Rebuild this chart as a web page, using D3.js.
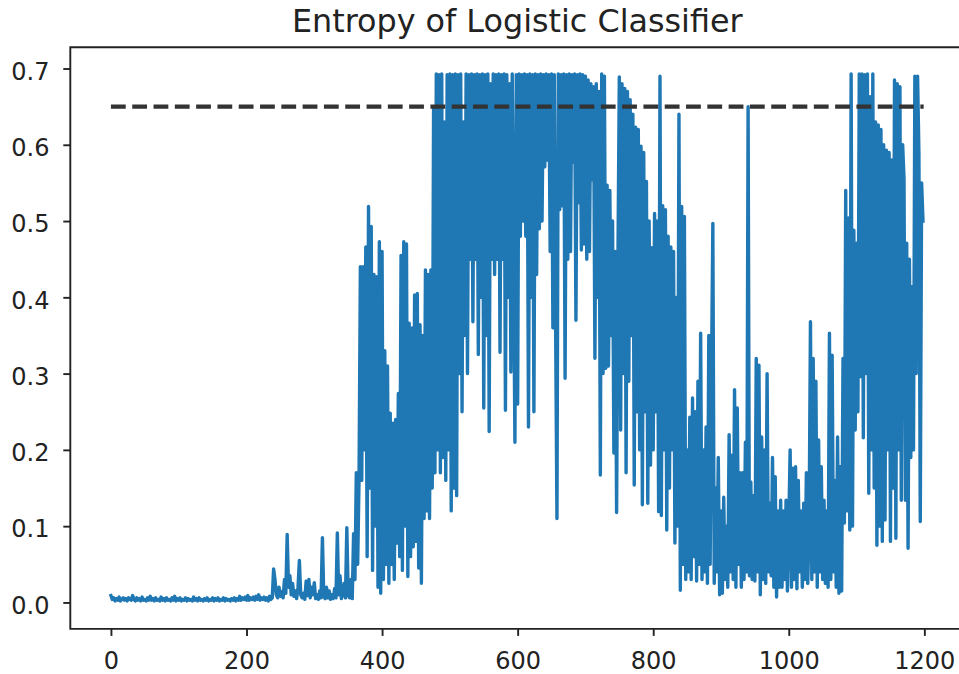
<!DOCTYPE html>
<html>
<head>
<meta charset="utf-8">
<script src="https://cdn.jsdelivr.net/npm/d3@7"></script>
<style>
  body { margin: 0; background: #fff; }
  svg { display: block; }
  text { font-family: "DejaVu Sans", sans-serif; fill: #222; }
</style>
</head>
<body>
<svg id="chart" width="959" height="674"></svg>
<script>
// Entropy of the classifier's predictions per step (sampled every 2 steps)
const title = "Entropy of Logistic Classifier";
const step = 2;
const entropy = [
  // 0-238: near-zero entropy
  0.009,0.004,0.006,0.002,0.005,0.003,0.007,0.002,0.004,0.006,0.003,0.005,0.002,0.006,0.004,
  0.003,0.009,0.004,0.002,0.006,0.003,0.005,0.002,0.007,0.003,0.004,0.002,0.006,0.003,0.008,
  0.003,0.005,0.002,0.006,0.003,0.004,0.002,0.007,0.003,0.005,0.002,0.006,0.003,0.004,0.002,
  0.006,0.003,0.008,0.002,0.005,0.003,0.006,0.002,0.004,0.003,0.006,0.002,0.005,0.003,0.004,
  0.002,0.007,0.003,0.005,0.002,0.006,0.003,0.004,0.002,0.005,0.003,0.006,0.002,0.004,0.003,
  0.006,0.002,0.005,0.003,0.006,0.002,0.004,0.003,0.006,0.002,0.005,0.003,0.004,0.002,0.005,
  0.003,0.006,0.002,0.005,0.003,0.008,0.003,0.006,0.004,0.007,0.003,0.009,0.003,0.006,0.004,
  0.007,0.003,0.008,0.004,0.010,0.003,0.006,0.004,0.007,0.003,0.006,0.002,0.008,0.004,0.006,
  // 240-358: first small spikes
  0.044,0.030,0.010,0.006,0.020,0.008,0.014,0.006,0.030,0.012,0.089,0.020,0.035,0.010,0.025,
  0.008,0.015,0.005,0.020,0.055,0.010,0.006,0.012,0.004,0.028,0.009,0.030,0.006,0.020,0.010,
  0.026,0.005,0.010,0.004,0.015,0.006,0.085,0.008,0.005,0.020,0.006,0.015,0.004,0.010,0.005,
  0.018,0.006,0.091,0.010,0.035,0.005,0.012,0.025,0.006,0.098,0.010,0.006,0.030,0.005,0.090,
  // 360-478: rising
  0.030,0.170,0.050,0.160,0.440,0.160,0.440,0.200,0.466,0.060,0.519,0.150,0.493,0.042,0.430,
  0.100,0.427,0.020,0.473,0.012,0.460,0.030,0.330,0.050,0.310,0.025,0.248,0.050,0.235,0.030,
  0.240,0.078,0.274,0.060,0.455,0.042,0.473,0.100,0.470,0.034,0.366,0.060,0.360,0.073,0.403,
  0.080,0.405,0.045,0.364,0.025,0.350,0.110,0.436,0.120,0.430,0.110,0.436,0.150,0.650,0.170,
  // 480-748: saturated near ln 2
  0.693,0.200,0.692,0.170,0.693,0.190,0.630,0.160,0.692,0.200,0.693,0.120,0.692,0.150,0.693,
  0.140,0.692,0.300,0.693,0.250,0.630,0.350,0.693,0.300,0.692,0.450,0.693,0.368,0.692,0.450,
  0.693,0.325,0.692,0.400,0.693,0.255,0.692,0.350,0.693,0.224,0.680,0.450,0.693,0.430,0.692,
  0.450,0.693,0.328,0.692,0.450,0.693,0.252,0.692,0.400,0.680,0.302,0.693,0.450,0.210,0.692,
  0.260,0.693,0.480,0.692,0.500,0.693,0.480,0.692,0.230,0.693,0.400,0.692,0.250,0.693,0.430,
  0.692,0.490,0.693,0.500,0.692,0.571,0.693,0.580,0.692,0.460,0.693,0.360,0.692,0.370,0.110,
  0.693,0.515,0.692,0.520,0.693,0.294,0.692,0.450,0.693,0.460,0.692,0.577,0.693,0.370,0.692,
  0.524,0.693,0.462,0.692,0.470,0.690,0.450,0.685,0.460,0.680,0.554,0.676,0.320,0.680,0.400,
  0.670,0.167,0.693,0.300,0.690,0.307,0.547,0.310,0.540,0.350,0.500,0.196,0.460,0.118,0.450,
  // 750-838: decaying
  0.689,0.226,0.680,0.300,0.674,0.170,0.670,0.290,0.659,0.350,0.640,0.154,0.623,0.250,0.620,
  0.200,0.598,0.128,0.590,0.250,0.552,0.130,0.500,0.180,0.465,0.200,0.510,0.250,0.500,0.119,
  0.690,0.114,0.520,0.200,0.515,0.095,0.480,0.150,0.466,0.200,0.460,0.078,0.400,0.100,0.640,
  // 840-1078: low with isolated spikes
  0.016,0.519,0.050,0.506,0.030,0.200,0.040,0.243,0.030,0.268,0.060,0.250,0.028,0.290,0.050,
  0.353,0.030,0.200,0.040,0.230,0.025,0.350,0.050,0.300,0.497,0.025,0.150,0.040,0.190,0.010,
  0.120,0.012,0.138,0.030,0.100,0.020,0.220,0.040,0.193,0.030,0.279,0.020,0.255,0.050,0.170,
  0.020,0.170,0.030,0.210,0.040,0.650,0.035,0.158,0.030,0.140,0.028,0.320,0.040,0.311,0.010,
  0.217,0.030,0.200,0.025,0.300,0.040,0.130,0.035,0.190,0.020,0.165,0.007,0.120,0.020,0.134,
  0.020,0.120,0.030,0.134,0.015,0.100,0.200,0.020,0.176,0.030,0.178,0.018,0.160,0.040,0.120,
  0.020,0.130,0.030,0.170,0.025,0.100,0.368,0.030,0.320,0.040,0.290,0.020,0.213,0.040,0.178,
  0.030,0.134,0.025,0.120,0.020,0.353,0.030,0.324,0.040,0.160,0.020,0.217,0.012,0.178,0.015,
  // 1080-1198: back up
  0.320,0.104,0.540,0.120,0.504,0.095,0.693,0.100,0.488,0.226,0.471,0.250,0.693,0.296,0.693,
  0.216,0.692,0.300,0.693,0.143,0.663,0.200,0.693,0.150,0.630,0.075,0.626,0.100,0.620,0.080,
  0.600,0.108,0.593,0.200,0.590,0.080,0.580,0.150,0.685,0.084,0.680,0.200,0.676,0.134,0.600,
  0.556,0.134,0.471,0.071,0.450,0.190,0.414,0.200,0.690,0.300,0.690,0.589,0.106,0.550,0.500
];

// Reference threshold level drawn as a dashed line
const threshold = 0.65;
const thresholdSpan = [0, 1199];

const xTicks = [0, 200, 400, 600, 800, 1000, 1200];
const yTicks = [0.0, 0.1, 0.2, 0.3, 0.4, 0.5, 0.6, 0.7];
const xDomain = [-59.95, 1258.95];
const yDomain = [-0.0347, 0.7278];

const plot = { left: 70.3, right: 964.3, top: 47.3, bottom: 628.9 };
const svg = d3.select("#chart");

const x = d3.scaleLinear().domain(xDomain).range([plot.left, plot.right]);
const y = d3.scaleLinear().domain(yDomain).range([plot.bottom, plot.top]);

// Data line
const line = d3.line()
  .x((d, i) => x(i * step))
  .y(d => y(d));

svg.append("path")
  .datum(entropy)
  .attr("d", line)
  .attr("fill", "none")
  .attr("stroke", "#1f77b4")
  .attr("stroke-width", 3.4)
  .attr("stroke-linejoin", "round")
  .attr("stroke-linecap", "square");

// Threshold line
svg.append("line")
  .attr("x1", x(thresholdSpan[0]))
  .attr("x2", x(thresholdSpan[1]))
  .attr("y1", y(threshold))
  .attr("y2", y(threshold))
  .attr("stroke", "#333")
  .attr("stroke-width", 4.2)
  .attr("stroke-dasharray", "14.8 6.5");

// Axes
const tickColor = "#222";
const yAxis = svg.append("g")
  .attr("transform", `translate(${plot.left},0)`)
  .call(d3.axisLeft(y).tickValues(yTicks).tickFormat(d3.format(".1f"))
    .tickSize(7).tickPadding(13.8));
const xAxis = svg.append("g")
  .attr("transform", `translate(0,${plot.bottom})`)
  .call(d3.axisBottom(x).tickValues(xTicks).tickFormat(d3.format("d"))
    .tickSize(7).tickPadding(15.7));

[yAxis, xAxis].forEach(g => {
  g.select(".domain").remove();
  g.selectAll(".tick line").attr("stroke", tickColor).attr("stroke-width", 1.9);
  g.selectAll(".tick text")
    .attr("font-family", "DejaVu Sans, sans-serif")
    .attr("font-size", 24)
    .attr("fill", tickColor);
});
yAxis.selectAll(".tick text").attr("dy", "0.45em");

// Frame
const frame = svg.append("g")
  .attr("stroke", tickColor)
  .attr("stroke-width", 1.9)
  .attr("fill", "none");
frame.append("path")
  .attr("d", `M${plot.right},${plot.top}H${plot.left}V${plot.bottom}H${plot.right}V${plot.top}`)
  .attr("stroke-linejoin", "miter");

// Title
svg.append("text")
  .attr("x", (plot.left + plot.right) / 2)
  .attr("y", 32)
  .attr("text-anchor", "middle")
  .attr("font-size", 31.8)
  .text(title);
</script>
</body>
</html>
